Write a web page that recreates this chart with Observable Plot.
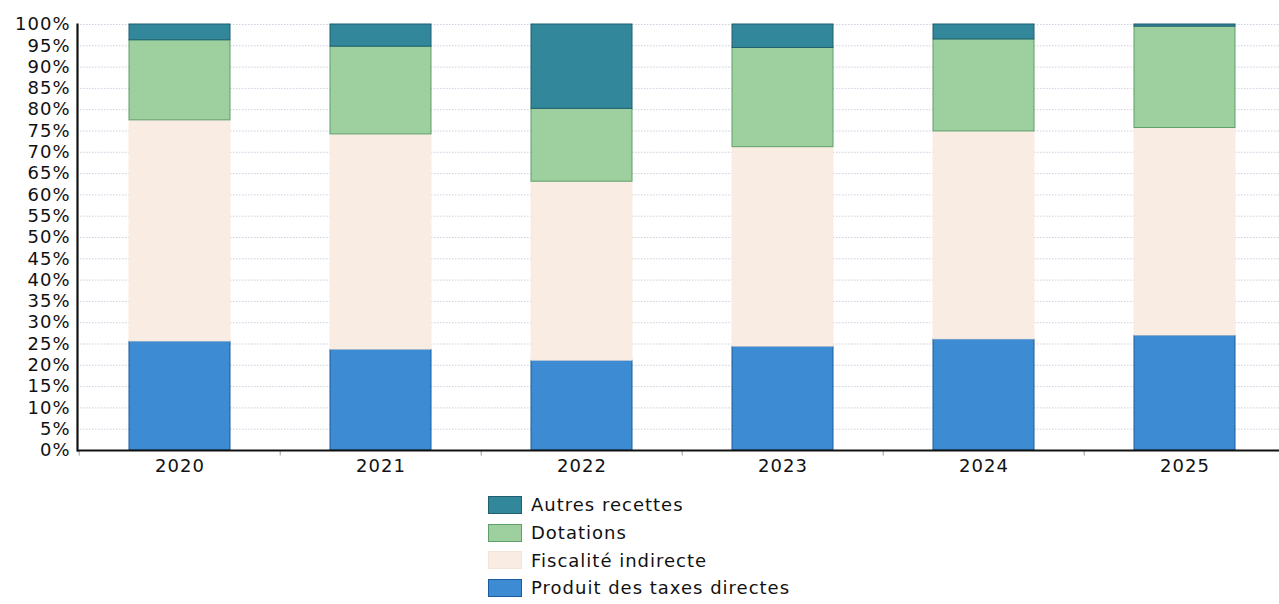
<!DOCTYPE html>
<html>
<head>
<meta charset="utf-8">
<script src="https://cdn.jsdelivr.net/npm/d3@7"></script>
<script src="https://cdn.jsdelivr.net/npm/@observablehq/plot@0.6"></script>
<style>
  html, body { margin: 0; padding: 0; background: #fff; }
  body { width: 1279px; height: 604px; overflow: hidden; font-family: "DejaVu Sans", sans-serif; }
  #legend { margin-left: 488px; padding-top: 9px; }
  .row { display: flex; align-items: center; height: 27.7px; font-size: 18px; letter-spacing: 1px; color: #111; }
  .sw { width: 34px; height: 18px; margin-right: 9px; box-sizing: border-box; border: 1px solid; }
</style>
</head>
<body>
<div id="chart"></div>
<div id="legend"></div>
<script>
const years = ["2020", "2021", "2022", "2023", "2024", "2025"];
const taxesDirectes      = [25.6, 23.7, 21.1, 24.4, 26.1, 27.0];
const fiscaliteIndirecte = [51.9, 50.5, 42.0, 46.8, 48.8, 48.7];
const dotations          = [18.8, 20.6, 17.1, 23.3, 21.6, 23.8];
const autresRecettes     = [3.7, 5.2, 19.8, 5.5, 3.5, 0.5];
const categories = ["Produit des taxes directes", "Fiscalité indirecte", "Dotations", "Autres recettes"];
const seriesValues = [taxesDirectes, fiscaliteIndirecte, dotations, autresRecettes];
const fillColors = ["#3c8bd3", "#f9ece2", "#9dcf9f", "#32879a"];
const strokeColors = ["#1d5c9c", "#f9ece2", "#5f9f6a", "#1f5f70"];
const yTicks = [0, 5, 10, 15, 20, 25, 30, 35, 40, 45, 50, 55, 60, 65, 70, 75, 80, 85, 90, 95, 100];

const data = [];
categories.forEach((c, i) => years.forEach((y, j) => data.push({year: y, category: c, value: seriesValues[i][j], fill: fillColors[i], stroke: strokeColors[i]})));

const chart = Plot.plot({
  width: 1279,
  height: 482,
  marginTop: 24,
  marginBottom: 32,
  marginLeft: 77,
  marginRight: 0,
  style: {fontFamily: "DejaVu Sans, sans-serif", fontSize: "18px", letterSpacing: "1px", color: "#111", background: "#fff"},
  x: {domain: years, range: [77, 1287], paddingInner: 0.5, paddingOuter: 0.25, align: 0.5, label: null},
  y: {domain: [0, 100], label: null},
  color: {type: "identity"},
  marks: [
    Plot.gridY(yTicks, {stroke: "#9ea9c2", strokeOpacity: 0.55, strokeDasharray: "1.5,1.5"}),
    Plot.barY(data, {x: "year", y: "value", z: "category", fill: "fill", stroke: "stroke", strokeWidth: 1}),
    Plot.ruleX(years, {x: d => d, dx: -100.8, y1: 0, y2: -1.3, stroke: "#999", strokeWidth: 1}),
    Plot.axisY(yTicks, {tickSize: 0, tickPadding: 7, tickFormat: d => d + "%", label: null}),
    Plot.axisX({tickSize: 0, tickPadding: 9, label: null}),
    Plot.frame({anchor: "left", stroke: "#111", strokeWidth: 2.2}),
    Plot.ruleY([0], {stroke: "#111", strokeWidth: 2.2})
  ]
});
document.getElementById("chart").appendChild(chart);

const legend = document.getElementById("legend");
[3, 2, 1, 0].forEach(i => {
  const row = document.createElement("div");
  row.className = "row";
  const sw = document.createElement("div");
  sw.className = "sw";
  sw.style.background = fillColors[i];
  sw.style.borderColor = i === 1 ? "#f3e6d8" : strokeColors[i];
  const t = document.createElement("span");
  t.textContent = categories[i];
  row.appendChild(sw);
  row.appendChild(t);
  legend.appendChild(row);
});
</script>
</body>
</html>
